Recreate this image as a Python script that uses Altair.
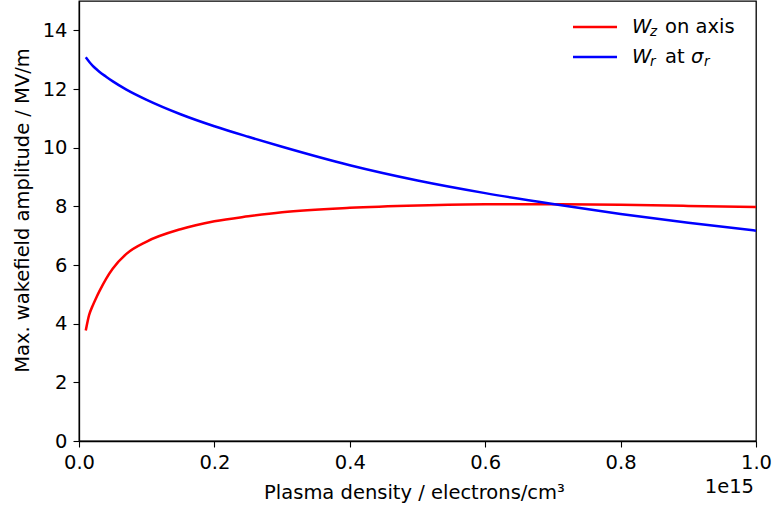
import altair as alt
import pandas as pd

# Plasma density in units of 1e15 electrons/cm^3
density = [0.01, 0.015, 0.02, 0.025, 0.03, 0.04, 0.05, 0.07, 0.1, 0.15, 0.2, 0.25,
           0.3, 0.4, 0.5, 0.6, 0.7, 0.8, 0.9, 1.0]
# W_z on axis (MV/m)
wz = [3.77, 4.3, 4.6, 4.86, 5.1, 5.53, 5.88, 6.38, 6.8, 7.22, 7.49, 7.66,
      7.8, 7.95, 8.03, 8.07, 8.07, 8.05, 8.015, 7.98]
# W_r at sigma_r (MV/m)
wr = [13.08, 12.93, 12.80, 12.69, 12.59, 12.42, 12.26, 11.98, 11.63, 11.14, 10.73, 10.37,
      10.03, 9.40, 8.88, 8.45, 8.08, 7.74, 7.44, 7.17]

series = ["Wz", "Wr"]
colors = ["#ff0000", "#0000ff"]
x_ticks = [0.0, 0.2, 0.4, 0.6, 0.8, 1.0]
y_ticks = [0, 2, 4, 6, 8, 10, 12, 14]

df = pd.DataFrame({
    "density": density * 2,
    "value": wz + wr,
    "series": ["Wz"] * len(density) + ["Wr"] * len(density),
    "order": [0] * len(density) + [1] * len(density),
})

FONT = "DejaVu Sans"
FS = 19.5
SUB = 13.5

lines = alt.Chart(df).mark_line(strokeWidth=2.5, clip=True, interpolate="monotone").encode(
    x=alt.X("density:Q",
            scale=alt.Scale(domain=[0, 1], nice=False, zero=False),
            axis=alt.Axis(values=x_ticks, format=".1f",
                          title="Plasma density / electrons/cm³",
                          titlePadding=12, titleX=335)),
    y=alt.Y("value:Q",
            scale=alt.Scale(domain=[0, 15], nice=False),
            axis=alt.Axis(values=y_ticks, format="d",
                          title="Max. wakefield amplitude / MV/m",
                          titlePadding=10, titleY=209)),
    color=alt.Color("series:N", scale=alt.Scale(domain=series, range=colors), legend=None),
    order=alt.Order("order:Q"),
    detail="series:N",
)


def txt(s, x, y, size=FS, italic=False, align="left", baseline="middle"):
    return alt.Chart(pd.DataFrame({"t": [s]})).mark_text(
        font=FONT, fontSize=size, fontStyle="italic" if italic else "normal",
        align=align, baseline=baseline, color="black"
    ).encode(text="t:N", x=alt.value(x), y=alt.value(y))


def legline(color, y):
    return alt.Chart(pd.DataFrame({"t": [0]})).mark_rule(color=color, strokeWidth=2.5).encode(
        x=alt.value(494), x2=alt.value(538), y=alt.value(y))


layers = [
    lines,
    legline(colors[0], 26),
    legline(colors[1], 56),
    txt("W", 553, 26, italic=True),
    txt("z", 571, 31, size=SUB, italic=True),
    txt("on axis", 586, 26),
    txt("W", 553, 56, italic=True),
    txt("r", 571, 61, size=SUB, italic=True),
    txt("at", 586, 56),
    txt("σ", 612, 56, italic=True),
    txt("r", 625, 61, size=SUB, italic=True),
    txt("1e15", 675, 486, align="right"),
]

chart = alt.layer(*layers).properties(
    width=677, height=440,
    autosize=alt.AutoSizeParams(type="none"),
    padding={"left": 79, "top": 1, "right": 17, "bottom": 70},
).configure_view(stroke="black", strokeWidth=1.3).configure_axis(
    labelFont=FONT, titleFont=FONT, labelFontSize=FS, titleFontSize=FS,
    titleFontWeight="normal", labelColor="black", titleColor="black",
    domainColor="black", domainWidth=1.3, tickColor="black", tickWidth=1.1,
    tickSize=6, labelPadding=6, grid=False, labelFlush=False,
)

chart.save("out.html", embed_options={"renderer": "svg", "actions": False})
